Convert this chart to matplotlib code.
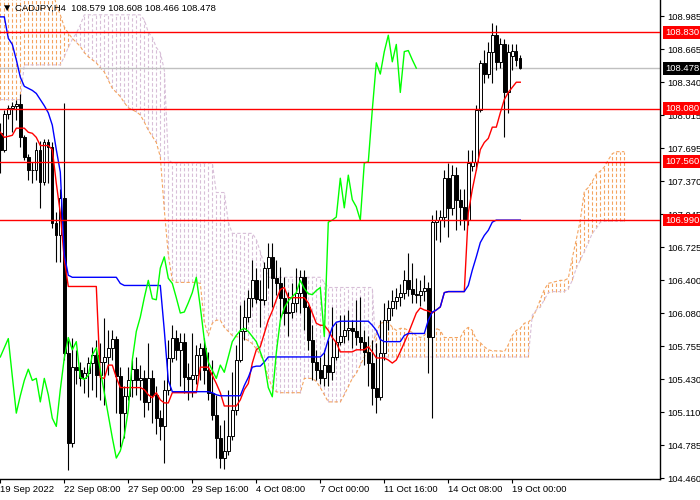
import matplotlib
matplotlib.use("Agg")
import matplotlib.pyplot as plt
import numpy as np

# CADJPY H4 candles, bar 0 = 19 Sep 2022 16:00
opens = [107.84, 107.68, 108.03, 108.09, 108.11, 108.13, 107.80, 107.61, 107.48, 107.48,
         107.68, 107.36, 107.75, 107.71, 106.96, 106.84, 107.21, 105.69, 104.81, 105.55,
         105.52, 105.44, 105.49, 105.59, 105.67, 105.47, 105.60, 105.65, 105.74, 105.83,
         105.46, 105.10, 105.27, 105.42, 105.53, 105.42, 105.44, 105.21, 105.44, 105.28,
         105.05, 104.97, 105.33, 105.64, 105.84, 105.72, 105.80, 105.45, 105.43, 105.47,
         105.67, 105.74, 105.52, 105.30, 105.08, 104.86, 104.66, 104.73, 104.88, 105.13,
         105.62, 105.90, 106.04, 106.23, 106.40, 106.22, 106.21, 106.52, 106.63, 106.42,
         106.37, 106.23, 106.08, 106.09, 106.18, 106.28, 106.43, 106.14, 105.82, 105.60,
         105.52, 105.44, 105.57, 105.50, 105.65, 105.80, 105.86, 105.91, 105.93, 105.90,
         105.85, 105.80, 105.70, 105.59, 105.35, 105.26, 105.69, 106.01, 106.13, 106.20,
         106.24, 106.28, 106.40, 106.32, 106.27, 106.26, 106.30, 106.33, 105.85, 106.97,
         106.99, 107.02, 107.40, 107.11, 107.43, 107.19, 107.12, 106.99, 107.52, 107.56,
         108.07, 108.53, 108.42, 108.64, 108.80, 108.54, 108.71, 108.24, 108.60, 108.65,
         108.579]
highs = [107.94, 108.07, 108.12, 108.15, 108.17, 108.22, 107.82, 107.64, 107.56, 107.75,
         107.76, 107.78, 107.78, 107.75, 107.07, 107.29, 108.14, 105.82, 105.84, 105.72,
         105.60, 105.55, 105.65, 105.75, 105.82, 105.79, 106.03, 105.91, 105.91, 105.86,
         105.55, 105.37, 105.55, 105.62, 105.65, 105.57, 105.52, 105.79, 105.52, 105.37,
         105.13, 105.42, 105.82, 105.96, 105.91, 105.88, 105.88, 105.59, 105.88, 105.77,
         105.79, 105.84, 105.70, 105.62, 105.28, 104.98, 105.03, 105.33, 105.50, 105.77,
         106.16, 106.21, 106.31, 106.60, 106.52, 106.40, 106.58, 106.77, 106.77, 106.60,
         106.53, 106.43, 106.29, 106.37, 106.52, 106.50, 106.50, 106.16, 105.96, 105.72,
         105.65, 105.72, 105.82, 106.14, 105.98, 106.06, 106.06, 106.11, 106.01, 106.21,
         106.24, 105.91, 105.86, 105.82, 105.79, 106.01, 106.18, 106.21, 106.31, 106.33,
         106.36, 106.50, 106.67, 106.57, 106.42, 106.40, 106.45, 106.38, 107.04, 107.09,
         107.09, 107.48, 107.55, 107.53, 107.51, 107.29, 107.29, 107.68, 107.68, 108.12,
         108.56, 108.66, 108.73, 108.92, 108.90, 108.77, 108.76, 108.71, 108.71, 108.71,
         108.608]
lows = [107.45, 107.66, 107.98, 107.85, 107.97, 107.71, 107.58, 107.38, 107.35, 107.38,
        107.11, 107.33, 107.35, 106.91, 106.58, 106.58, 105.62, 104.54, 104.77, 105.39,
        105.37, 105.30, 105.26, 105.33, 105.26, 105.23, 105.18, 105.47, 105.62, 105.10,
        104.77, 104.86, 105.23, 105.26, 105.28, 105.23, 105.06, 105.13, 105.00, 104.90,
        104.84, 104.61, 105.28, 105.60, 105.62, 105.37, 105.30, 105.23, 105.26, 105.39,
        105.42, 105.39, 105.23, 105.03, 104.66, 104.56, 104.55, 104.69, 104.84, 105.08,
        105.60, 105.82, 105.99, 106.14, 106.18, 105.94, 106.16, 106.33, 106.14, 106.26,
        106.01, 105.96, 105.86, 106.03, 106.09, 106.08, 105.91, 105.72, 105.42, 105.42,
        105.39, 105.37, 105.37, 105.42, 105.62, 105.77, 105.79, 105.82, 105.74, 105.77,
        105.72, 105.57, 105.37, 105.18, 105.10, 105.23, 105.62, 105.91, 106.05, 106.12,
        106.15, 106.22, 106.25, 106.18, 106.18, 106.15, 106.20, 105.49, 105.05, 106.80,
        106.78, 106.92, 106.82, 107.04, 106.89, 106.94, 106.89, 106.94, 107.47, 107.48,
        108.05, 108.33, 108.38, 108.33, 108.46, 108.48, 107.80, 108.04, 108.46, 108.50,
        108.466]
closes = [107.68, 108.03, 108.09, 108.11, 108.13, 107.80, 107.61, 107.48, 107.48, 107.68,
          107.36, 107.75, 107.71, 106.96, 106.84, 107.21, 105.69, 104.81, 105.55, 105.52,
          105.44, 105.49, 105.59, 105.67, 105.47, 105.60, 105.65, 105.74, 105.83, 105.46,
          105.10, 105.27, 105.42, 105.53, 105.42, 105.44, 105.21, 105.44, 105.28, 105.05,
          104.97, 105.33, 105.64, 105.84, 105.72, 105.80, 105.45, 105.43, 105.47, 105.67,
          105.74, 105.52, 105.30, 105.08, 104.86, 104.66, 104.73, 104.88, 105.13, 105.62,
          105.90, 106.04, 106.23, 106.40, 106.22, 106.21, 106.52, 106.63, 106.42, 106.37,
          106.23, 106.08, 106.09, 106.18, 106.28, 106.43, 106.14, 105.82, 105.60, 105.52,
          105.44, 105.57, 105.50, 105.65, 105.80, 105.86, 105.91, 105.93, 105.90, 105.85,
          105.80, 105.70, 105.59, 105.35, 105.26, 105.69, 106.01, 106.13, 106.20, 106.24,
          106.28, 106.40, 106.32, 106.27, 106.26, 106.30, 106.33, 105.85, 106.97, 106.99,
          107.02, 107.40, 107.11, 107.43, 107.19, 107.12, 106.99, 107.55, 107.56, 108.07,
          108.53, 108.42, 108.64, 108.80, 108.54, 108.71, 108.24, 108.64, 108.65, 108.56,
          108.478]

# Ichimoku lines (one value per bar)
tenkan = ([107.85, 107.80, 107.81, 107.82, 107.89, 107.89, 107.89, 107.85, 107.84, 107.80,
           107.72, 107.72, 107.72, 107.68, 107.35, 107.06, 106.60]
          + [106.34] * 8
          + [105.45, 105.44, 105.57, 105.57, 105.45]
          + [105.35] * 6
          + [105.33, 105.28, 105.25, 105.30, 105.23, 105.20, 105.20]
          + [105.30] * 7
          + [105.55] * 3
          + [105.47, 105.39, 105.30]
          + [105.17] * 4
          + [105.23, 105.33, 105.39, 105.59, 105.72, 105.75, 105.88, 106.01, 106.10, 106.21,
             106.31, 106.33]
          + [106.23] * 5
          + [106.18, 106.08, 105.98, 105.96, 105.96, 105.91, 105.84, 105.79]
          + [105.70] * 4
          + [105.72] * 3
          + [105.75, 105.70]
          + [105.64] * 3
          + [105.62, 105.59, 105.62, 105.70, 105.79, 105.88, 105.98, 106.08, 106.13, 106.11,
             106.10, 106.08, 106.11, 106.14, 106.28]
          + [106.29] * 5
          + [107.06, 107.29, 107.48, 107.68, 107.75, 107.79, 107.90, 107.90, 108.04, 108.17,
             108.24, 108.29, 108.34, 108.34])

kijun = ([108.98, 108.98, 108.77, 108.71, 108.56, 108.39, 108.30, 108.28, 108.26, 108.23,
          108.17, 108.11, 108.04, 107.92, 107.68, 107.46, 106.65, 106.45]
         + [106.43] * 12
         + [106.37]
         + [106.35] * 10
         + [105.91, 105.42]
         + [105.31] * 10
         + [105.30, 105.28]
         + [105.27] * 6
         + [105.37, 105.45, 105.55, 105.56, 105.56, 105.60]
         + [105.65] * 14
         + [105.69, 105.82, 105.94, 105.99]
         + [106.00] * 8
         + [105.96, 105.91, 105.82]
         + [105.80] * 5
         + [105.86]
         + [105.88] * 5
         + [106.01, 106.09, 106.11, 106.14, 106.28]
         + [106.29] * 5
         + [106.35, 106.50, 106.63, 106.77, 106.84, 106.89, 106.97]
         + [106.99] * 7)

senkou_a = ([109.34] * 13
            + [109.25, 109.10, 109.00, 108.88, 108.82, 108.77, 108.73, 108.69, 108.63, 108.59,
               108.56, 108.53, 108.48, 108.44, 108.36, 108.28, 108.24, 108.20, 108.14, 108.09,
               108.07, 108.05, 108.02, 107.95, 107.87, 107.81, 107.75, 107.61, 107.09, 106.65,
               106.40]
            + [106.38] * 6
            + [106.37, 105.99, 105.86, 105.98, 106.01, 106.01, 105.94, 105.90, 105.86, 105.85,
               105.84, 105.83, 105.81, 105.78, 105.73, 105.67, 105.59, 105.45, 105.35, 105.31]
            + [105.30] * 6
            + [105.44, 105.44, 105.44, 105.41, 105.35, 105.28]
            + [105.21] * 4
            + [105.28, 105.36, 105.44, 105.49, 105.57, 105.65, 105.72, 105.79, 105.88, 105.98,
               105.99, 105.99, 105.94, 105.91, 105.93, 105.93, 105.91, 105.89, 105.86, 105.84,
               105.86, 105.91, 105.93, 105.93, 105.91]
            + [105.84] * 5
            + [105.91, 105.94, 105.91, 105.82, 105.79, 105.75, 105.72, 105.71, 105.71, 105.71,
               105.70, 105.77, 105.86, 105.91, 105.93, 105.98, 105.99, 106.03, 106.11, 106.21,
               106.31, 106.37, 106.38, 106.39, 106.40, 106.40, 106.42, 106.62, 106.80, 106.99,
               107.27, 107.31, 107.37, 107.44, 107.47, 107.51, 107.58, 107.64, 107.66, 107.66,
               107.66])

senkou_b = ([108.17] * 6 + [108.51] * 10
            + [108.59, 108.68, 108.76, 108.82, 108.90]
            + [109.00] * 15
            + [108.95, 108.83, 108.78, 108.68, 108.63, 108.46, 107.58]
            + [107.55] * 11
            + [107.26] * 3
            + [106.97]
            + [106.86] * 6
            + [106.80, 106.68, 106.55]
            + [106.43] * 14
            + [106.38]
            + [106.33] * 12
            + [105.65] * 39
            + [106.06, 106.11, 106.14, 106.21, 106.28]
            + [106.29] * 4
            + [106.32, 106.40, 106.52, 106.60, 106.68, 106.77, 106.86, 106.91, 106.97]
            + [106.98] * 6)

levels = [108.830, 108.080, 107.560, 106.990]
bid = 108.478
ytick_vals = [108.985, 108.665, 108.340, 108.015, 107.695, 107.370, 107.045, 106.725,
              106.400, 106.080, 105.755, 105.430, 105.110, 104.785, 104.460]
xtick_bars = [0, 16, 32, 48, 64, 80, 96, 112, 128]
xtick_labels = ["19 Sep 2022", "22 Sep 08:00", "27 Sep 00:00", "29 Sep 16:00", "4 Oct 08:00",
                "7 Oct 00:00", "11 Oct 16:00", "14 Oct 08:00", "19 Oct 00:00"]
title = "CADJPY,H4  108.579 108.608 108.466 108.478"

plt.rcParams['font.family'] = ['Liberation Sans', 'DejaVu Sans']
FS = 6.8

fig = plt.figure(figsize=(7, 5), dpi=100)
ax = fig.add_axes([0, 0.042, 660 / 700, 0.958])

# kumo drawn as dotted histogram like MT4
dots = (0, (3, 2))
a = np.array(senkou_a)
b = np.array(senkou_b)
xc = np.arange(len(a))
up = a >= b
ax.vlines(xc[up], b[up], a[up], colors='#F4A460', linestyles=dots, lw=0.8, zorder=1)
ax.vlines(xc[~up], a[~up], b[~up], colors='#D8BFD8', linestyles=dots, lw=0.8, zorder=1)
ax.plot(xc, a, color='#F4A460', ls=dots, lw=0.8, zorder=1)
ax.plot(xc, b, color='#D8BFD8', ls=dots, lw=0.8, zorder=1)

ax.axhline(bid, color='#C0C0C0', lw=1, zorder=2)

# candles
o = np.array(opens)
h = np.array(highs)
l = np.array(lows)
c = np.array(closes)
xb = np.arange(len(o))
ax.vlines(xb, l, h, color='black', lw=0.8, zorder=3)
bull = c >= o
ax.bar(xb[bull], (c - o)[bull], bottom=o[bull], width=0.6, facecolor='white',
       edgecolor='black', lw=0.7, zorder=3.5)
ax.bar(xb[~bull], (o - c)[~bull], bottom=c[~bull], width=0.6, facecolor='black',
       edgecolor='black', lw=0.7, zorder=3.5)

# tenkan, kijun, chikou (close shifted back 26 bars)
ax.plot(np.arange(len(tenkan)), tenkan, color='red', lw=1, zorder=4)
ax.plot(np.arange(len(kijun)), kijun, color='blue', lw=1, zorder=4)
chikou = closes[26:]
ax.plot(np.arange(len(chikou)), chikou, color='#00FF00', lw=1, zorder=4)

for lv in levels:
    ax.axhline(lv, color='red', lw=1, zorder=5)

ax.set_xlim(-0.075, 164.925)
ax.set_ylim(104.455, 109.145)

for side in ['left', 'top']:
    ax.spines[side].set_visible(False)
for side in ['right', 'bottom']:
    ax.spines[side].set_linewidth(1)
    ax.spines[side].set_color('black')

ax.yaxis.tick_right()
ax.set_yticks(ytick_vals)
ax.set_yticklabels(['%.3f' % v for v in ytick_vals])
ax.tick_params(axis='y', length=3, width=0.8, pad=2, labelsize=FS, colors='black')
ax.set_xticks(xtick_bars)
ax.set_xticklabels(xtick_labels, ha='left')
ax.tick_params(axis='x', length=3, width=0.8, pad=1.5, labelsize=FS, colors='black')

# price tags on the right scale
for lv in levels:
    ax.annotate('%.3f' % lv, xy=(1, lv), xycoords=('axes fraction', 'data'),
                xytext=(3.5, 0), textcoords='offset points', va='center', ha='left',
                color='white', fontsize=FS, annotation_clip=False, zorder=10,
                bbox=dict(boxstyle='square,pad=0.2', fc='red', ec='none'))
ax.annotate('%.3f' % bid, xy=(1, bid), xycoords=('axes fraction', 'data'),
            xytext=(3.5, 0), textcoords='offset points', va='center', ha='left',
            color='white', fontsize=FS, annotation_clip=False, zorder=10,
            bbox=dict(boxstyle='square,pad=0.2', fc='black', ec='none'))

fig.text(2 / 700, 1 - 8 / 500, '\u25bc', fontsize=7.5, va='center', ha='left', color='black')
fig.text(15 / 700, 1 - 8 / 500, title, fontsize=FS, va='center', ha='left', color='black')

fig.savefig('out.png', dpi=100)
